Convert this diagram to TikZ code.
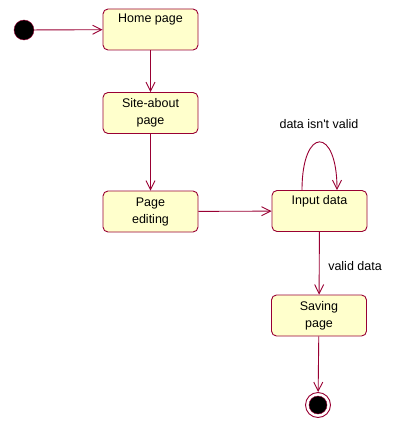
\documentclass[tikz,border=0pt]{standalone}
\usepackage{fontspec}
\setmainfont{Liberation Sans}
\usetikzlibrary{arrows.meta}
\definecolor{rosered}{HTML}{990033}
\definecolor{rosefill}{HTML}{FFFFCC}
\begin{document}
\begin{tikzpicture}[
  x=1pt, y=-1pt,
  font=\fontsize{12.5}{17}\selectfont,
  state/.style={draw=rosered, line width=0.9pt, fill=rosefill, rounded corners=5pt,
    align=center, minimum width=95pt, minimum height=41pt, inner sep=1pt},
  trans/.style={draw=rosered, line width=0.9pt, -{Straight Barb[length=9pt,width=9pt]}},
  init/.style={circle, draw=rosered, fill=black, minimum size=20pt, inner sep=0pt},
  final/.style={circle, draw=rosered, fill=white, minimum size=25pt, inner sep=0pt, line width=0.9pt}
]
\useasboundingbox (0,0) rectangle (405,444);

% states
\node[init] (start) at (24,30) {};
\node[state] (home) at (150.5,29.5) {Home page\\\strut};
\node[state] (about) at (150.5,113) {Site-about\\page};
\node[state] (edit) at (150.5,211.5) {Page\\editing};
\node[state] (indata) at (319.5,211) {Input data\\\strut};
\node[state] (saving) at (319,315.5) {Saving\\page};
\node[final] (end) at (318,405) {};
\node[circle, fill=black, draw=rosered, minimum size=18pt, inner sep=0pt] (endin) at (end) {};

% transitions
\draw[trans] (start) -- (home);
\draw[trans] (home) -- (about);
\draw[trans] (about) -- (edit);
\draw[trans] (edit) -- (indata);
\draw[trans] ([xshift=-17.5pt]indata.north) .. controls +(0,-64) and +(0,-64) .. ([xshift=17.5pt]indata.north);
\node (notvalid) at (319,124) {data isn\textquotesingle t valid};
\draw[trans] (indata) -- (saving);
\node (valid) at (355,266) {valid data};
\draw[trans] (saving) -- (end);
\end{tikzpicture}
\end{document}
